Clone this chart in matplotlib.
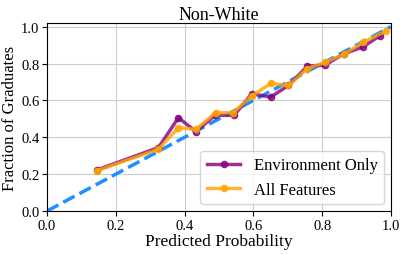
import numpy as np
import matplotlib
matplotlib.use("Agg")
import matplotlib.pyplot as plt

# calibration data
env_pred = [0.144, 0.324, 0.382, 0.433, 0.488, 0.544, 0.595, 0.650, 0.702, 0.757, 0.808, 0.862, 0.918, 0.968]
env_frac = [0.222, 0.344, 0.506, 0.431, 0.519, 0.519, 0.636, 0.618, 0.681, 0.786, 0.791, 0.852, 0.890, 0.951]
all_pred = [0.144, 0.324, 0.382, 0.433, 0.490, 0.540, 0.595, 0.650, 0.702, 0.757, 0.808, 0.862, 0.918, 0.985]
all_frac = [0.218, 0.335, 0.452, 0.443, 0.533, 0.533, 0.623, 0.692, 0.681, 0.773, 0.807, 0.849, 0.915, 0.975]

plt.rcParams['font.family'] = ['Liberation Serif']

fig, ax = plt.subplots(figsize=(4.07, 2.55), dpi=100)
ax.plot([0, 1], [0, 1], '--', color='dodgerblue', lw=2.5, zorder=1)
ax.plot(env_pred, env_frac, '-o', color='purple', alpha=0.8, lw=2.5, ms=4.5,
        label='Environment Only', zorder=2)
ax.plot(all_pred, all_frac, '-o', color='orange', alpha=0.8, lw=2.5, ms=4.5,
        label='All Features', zorder=3)
ax.set_xlim(0, 1)
ax.set_ylim(0, 1.02)
ax.set_xticks(np.arange(0, 1.01, 0.2))
ax.set_yticks(np.arange(0, 1.01, 0.2))
ax.tick_params(labelsize=10.5, pad=2)
ax.grid(True, color='#cccccc', lw=0.8)
ax.set_axisbelow(True)
ax.set_title('Non-White', fontsize=13, pad=3)
ax.set_xlabel('Predicted Probability', fontsize=12.5, labelpad=1)
ax.set_ylabel('Fraction of Graduates', fontsize=12, labelpad=2)
ax.legend(loc='lower right', fontsize=12, handlelength=2, borderaxespad=0.4)
fig.subplots_adjust(left=0.1155, right=0.9607, top=0.906, bottom=0.1686)
plt.savefig("out.png", dpi=100)
